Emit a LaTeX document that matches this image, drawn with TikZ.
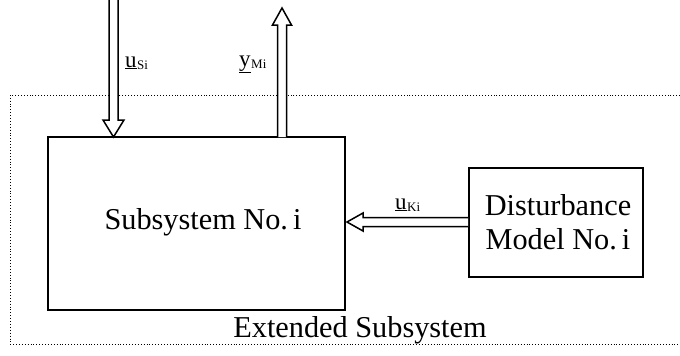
\documentclass[tikz,border=0pt]{standalone}
\usepackage{fontspec}
\setmainfont{Liberation Serif}
\usetikzlibrary{calc}
\tikzset{
  blockbox/.style={draw, line width=2pt, inner sep=0pt},
  hollowarrow/.style={draw, line width=1.5pt, line join=miter, fill=white},
  bigtext/.style={font=\fontsize{30.3}{35}\selectfont, inner sep=0pt},
  sigtext/.style={font=\fontsize{23}{26}\selectfont, inner sep=0pt, anchor=base west},
  extbox/.style={draw, line width=0.9pt, dotted}
}
\newcommand{\sigl}[2]{\underline{#1}\kern0.5pt{\fontsize{13}{14}\selectfont\raisebox{-2pt}{#2}}}
\begin{document}
\begin{tikzpicture}[x=1pt,y=-1pt]
\useasboundingbox (0,0) rectangle (680,356);
% extended subsystem (dotted, open on the right)
\draw[extbox] (680,95) -- (10,95) -- (10,344) -- (680,344);
\node[bigtext, anchor=base] (ext) at (360,337) {Extended Subsystem};
% blocks
\node[blockbox, minimum width=297pt, minimum height=173pt] (sub) at (196.5,223.5) {};
\node[bigtext] (subtxt) at (203,222) {Subsystem No.\,i};
\node[blockbox, minimum width=174pt, minimum height=109pt] (dist) at (556,222.5) {};
\node[bigtext, align=center] (disttxt) at (558,222) {Disturbance\\[-1pt]Model No.\,i};
% input arrow u_Si
\coordinate (inTip) at (113.5,137);
\draw[hollowarrow] ($(inTip)+(-4.5,-142)$) -- ($(inTip)+(-4.5,-17)$) -- ($(inTip)+(-10.5,-17)$) -- (inTip)
  -- ($(inTip)+(10.5,-17)$) -- ($(inTip)+(4.5,-17)$) -- ($(inTip)+(4.5,-142)$);
\node[sigtext] (usi) at (125,67) {\sigl{u}{Si}};
% output arrow y_Mi
\coordinate (outBase) at (282,137);
\coordinate (outTip) at (282,8);
\draw[hollowarrow] ($(outBase)+(-4.5,0)$) -- ($(outTip)+(-4.5,17)$) -- ($(outTip)+(-9.5,17)$) -- (outTip)
  -- ($(outTip)+(9.5,17)$) -- ($(outTip)+(4.5,17)$) -- ($(outBase)+(4.5,0)$);
\node[sigtext] (ymi) at (239,66) {\sigl{y}{Mi}};
% disturbance arrow u_Ki
\coordinate (kTip) at ($(sub.east)+(1,-1.5)$);
\coordinate (kBase) at ($(dist.west)+(0,-0.5)$);
\draw[hollowarrow] ($(kBase)+(0,-4.5)$) -- ($(kTip)+(16,-4.5)$) -- ($(kTip)+(16,-9)$) -- (kTip)
  -- ($(kTip)+(16,9)$) -- ($(kTip)+(16,4.5)$) -- ($(kBase)+(0,4.5)$);
\node[sigtext] (uki) at (395,209) {\sigl{u}{Ki}};
\end{tikzpicture}
\end{document}
